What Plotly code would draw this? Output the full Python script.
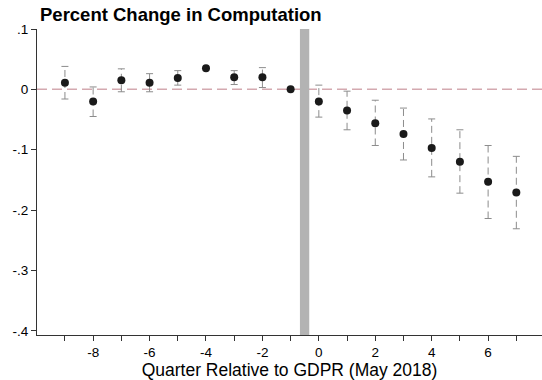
import plotly.graph_objects as go

# Event-study estimates: quarters relative to GDPR (May 2018)
quarters = [-9, -8, -7, -6, -5, -4, -3, -2, -1, 0, 1, 2, 3, 4, 5, 6, 7]
coef = [0.011, -0.020, 0.015, 0.011, 0.019, 0.035, 0.020, 0.020, 0.0,
        -0.020, -0.035, -0.056, -0.074, -0.097, -0.120, -0.153, -0.171]
ci_hi = [0.038, 0.004, 0.034, 0.026, 0.031, 0.035, 0.031, 0.036, 0.0,
         0.007, -0.003, -0.018, -0.031, -0.049, -0.067, -0.093, -0.111]
ci_lo = [-0.016, -0.045, -0.004, -0.004, 0.007, 0.035, 0.008, 0.003, 0.0,
         -0.046, -0.067, -0.093, -0.117, -0.145, -0.172, -0.214, -0.231]

x_ticks = list(range(-9, 8))
x_labels = [str(v) if v % 2 == 0 else "" for v in x_ticks]
y_ticks = [0.1, 0.0, -0.1, -0.2, -0.3, -0.4]
y_labels = [".1", "0", "-.1", "-.2", "-.3", "-.4"]

title_text = "Percent Change in Computation"
x_title = "Quarter Relative to GDPR (May 2018)"

FONT = "Liberation Sans, Arial, Helvetica, sans-serif"
CI_COLOR = "#8c8c8c"

# Dashed confidence-interval whiskers (one segment per quarter)
wx, wy = [], []
for q, lo, hi in zip(quarters, ci_lo, ci_hi):
    wx += [q, q, None]
    wy += [lo, hi, None]

fig = go.Figure()
fig.add_trace(go.Scatter(
    x=wx, y=wy, mode="lines",
    line=dict(color=CI_COLOR, width=1, dash="7px,4px"),
    hoverinfo="skip", showlegend=False,
))
# Whisker caps
fig.add_trace(go.Scatter(
    x=quarters + quarters, y=ci_hi + ci_lo, mode="markers",
    marker=dict(symbol="line-ew", size=5,
                line=dict(color=CI_COLOR, width=1)),
    hoverinfo="skip", showlegend=False,
))
# Point estimates
fig.add_trace(go.Scatter(
    x=quarters, y=coef, mode="markers",
    marker=dict(color="#1a1a1a", size=8, line=dict(width=0)),
    showlegend=False,
))

# GDPR implementation marker
fig.add_shape(type="rect", xref="x", yref="y",
              x0=-0.67, x1=-0.34, y0=-0.407, y1=0.1,
              fillcolor="#b3b3b3", line=dict(width=0), layer="below")
# Zero reference line
fig.add_shape(type="line", xref="paper", yref="y",
              x0=0, x1=1, y0=0, y1=0,
              line=dict(color="#d4a9b0", width=1.5, dash="10px,5px"),
              layer="below")

fig.update_layout(
    width=542, height=380,
    margin=dict(l=37, r=0, t=29, b=45),
    paper_bgcolor="white", plot_bgcolor="white",
    font=dict(family=FONT, color="#000000", size=13),
    title=dict(text=f"<b>{title_text}</b>", x=40 / 542, xanchor="left",
               y=1 - 15 / 380, yanchor="middle",
               font=dict(family=FONT, size=18.5, color="#000000")),
    xaxis=dict(
        range=[-9.99, 7.91], tickvals=x_ticks, ticktext=x_labels,
        ticks="outside", ticklen=5, tickcolor="#333333", tickwidth=1,
        showline=True, linecolor="#333333", linewidth=1,
        showgrid=False, zeroline=False,
        title=dict(text=x_title, standoff=3,
                   font=dict(family=FONT, size=17.5)),
        tickfont=dict(family=FONT, size=13.5),
    ),
    yaxis=dict(
        range=[-0.407, 0.1], tickvals=y_ticks, ticktext=y_labels,
        ticks="outside", ticklen=5, tickcolor="#333333", tickwidth=1,
        showline=True, linecolor="#333333", linewidth=1,
        showgrid=False, zeroline=False,
        tickfont=dict(family=FONT, size=13.5),
    ),
)

fig.write_html("out.html")
